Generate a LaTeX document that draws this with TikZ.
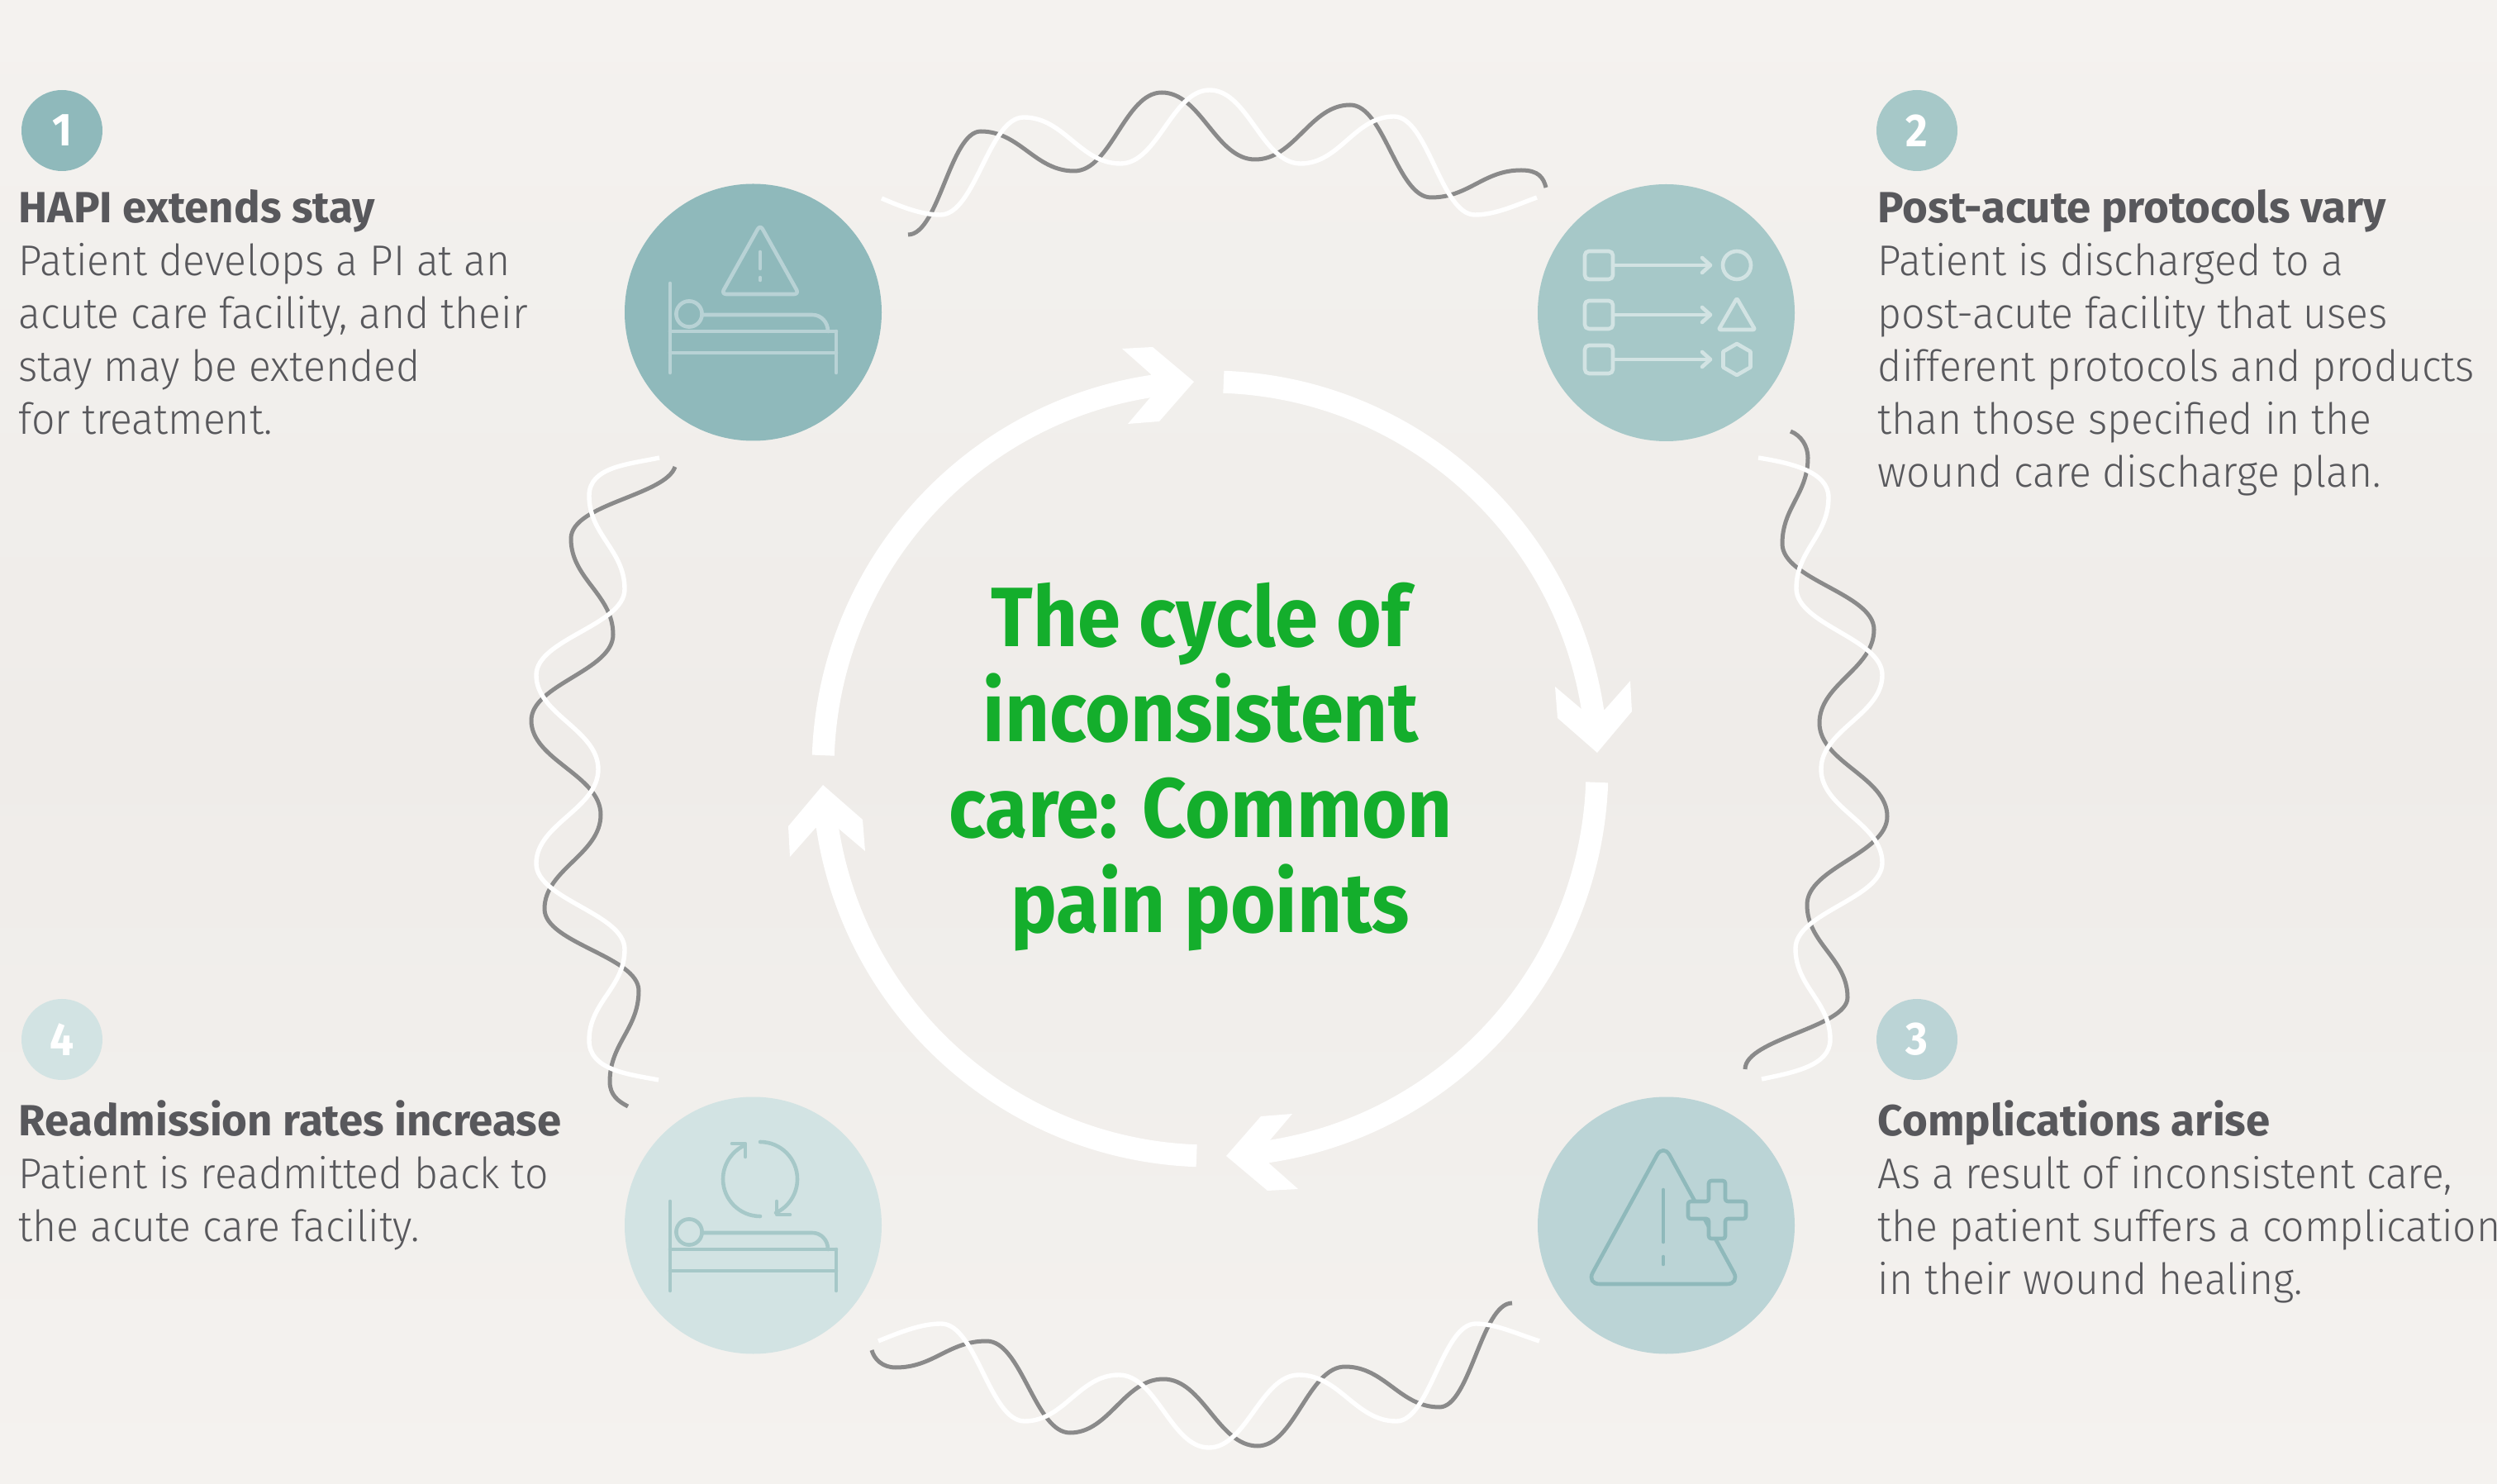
\documentclass[tikz,border=0pt]{standalone}
\usepackage{fontspec}
\usetikzlibrary{positioning}
\newfontfamily\dinlight{Fira Sans Light}[FakeStretch=0.96]
\newfontfamily\dinbold{Fira Sans Bold}[FakeStretch=0.92]
\newfontfamily\dinhead{Fira Sans Bold}
\newlength{\du}
\setlength{\du}{0.25pt}

\definecolor{tealA}{HTML}{8FB9BB}
\definecolor{tealB}{HTML}{A6C8C8}
\definecolor{tealC}{HTML}{BBD4D6}
\definecolor{tealD}{HTML}{D2E3E3}
\definecolor{iconA}{HTML}{B8D2D5}
\definecolor{titlegreen}{HTML}{14AE2C}
\definecolor{inkgrey}{HTML}{58585C}
\definecolor{wavegrey}{HTML}{8A8A8A}
\definecolor{bgedge}{HTML}{F4F2EF}
\definecolor{bgmid}{HTML}{EFECE9}

\tikzset{
  disc/.style={circle,inner sep=0pt,minimum size=311\du},
  badge/.style={circle,inner sep=0pt,minimum size=98\du,text=white,
    font=\dinbold\fontsize{14}{16}\selectfont},
  headline/.style={anchor=base west,inner sep=0pt,text=inkgrey,
    font=\dinhead\fontsize{13.2}{16}\selectfont},
  bodytext/.style={anchor=base west,inner sep=0pt,align=left,text=inkgrey,
    font=\dinlight\fontsize{13}{16}\selectfont},
  icon/.style={line width=4.6\du,line cap=round,line join=round},
  ring/.style={line width=27\du,white},
  wave/.style={line width=5\du,wavegrey},
  wavew/.style={line width=5.4\du,white},
}

% wave through its turning points: tangents level (wavex) or upright (wavey)
\newcommand{\wavex}[5]{
  \draw[#1] #2 \foreach \x/\y [remember=\x as \lastx (initially #3)] in {#4}{
    .. controls +({0.42*(\x-\lastx)*\du},0pt) and +({-0.42*(\x-\lastx)*\du},0pt) .. (\x\du,\y\du)
  } #5;
}
\newcommand{\wavey}[5]{
  \draw[#1] #2 \foreach \x/\y [remember=\y as \lasty (initially #3)] in {#4}{
    .. controls +(0pt,{0.42*(\y-\lasty)*\du}) and +(0pt,{-0.42*(\y-\lasty)*\du}) .. (\x\du,\y\du)
  } #5;
}

% bed with a patient, shifted down by #1, drawn in colour #2
\newcommand{\bedicon}[2]{
  \begin{scope}[yshift=#1\du,icon,#2]
    \draw (811\du,343\du)--(811\du,451\du);
    \draw (1012\du,401\du)--(1012\du,451\du);
    \draw (811\du,401\du)--(1012\du,401\du);
    \draw (811\du,427\du)--(1012\du,427\du);
    \draw (834\du,380\du) circle (15.6\du);
    \draw (850\du,381\du)--(983\du,381\du) .. controls (994\du,381\du) and (1002\du,390\du) .. (1002\du,401\du);
  \end{scope}
}

\begin{document}
\begin{tikzpicture}
  \pgftransformxscale{1.000000}
  \pgftransformyscale{-1.000000}
  \useasboundingbox (0\du,0\du) rectangle (3022\du,1796\du);
  \shade[top color=bgedge,bottom color=bgedge,middle color=bgmid] (0\du,0\du) rectangle (3022\du,1796\du);

  % waves between the discs
  \wavex{wave}{(1099\du,284\du)}{1099}{1187/159,1300/207,1406/112,1519/193,1634/127,1732/239,1841/206}{.. controls (1862\du,206\du) and (1868\du,215\du) .. (1871\du,227\du)}
  \wavey{wave}{(2167\du,522\du) .. controls (2180\du,527\du) and (2188\du,540\du) .. (2188\du,554\du)}{554}{2157/658,2268/762,2202/875,2284/988,2187/1095,2236/1207,2112/1294}{}
  \wavex{wave}{(1055\du,1634\du) .. controls (1058\du,1645\du) and (1068\du,1655\du) .. (1084\du,1655\du)}{1084}{1194/1623,1295/1734,1408/1669,1522/1750,1628/1654,1742/1703,1830/1577}{}
  \wavey{wave}{(817\du,565\du) .. controls (805\du,600\du) and (691\du,610\du) .. (691\du,652\du)}{652}{742/768,643/872,727/986,659/1100,773/1199,738/1309}{.. controls (738\du,1325\du) and (748\du,1333\du) .. (760\du,1339\du)}
  \wavex{wavew}{(1067\du,240\du) .. controls (1090\du,250\du) and (1115\du,260\du) .. (1138\du,260\du)}{1138}{1239/142,1356/198,1464/109,1574/198,1687/141,1785/260}{.. controls (1810\du,260\du) and (1835\du,248\du) .. (1860\du,239\du)}
  \wavey{wavew}{(2128\du,554\du) .. controls (2165\du,560\du) and (2213\du,570\du) .. (2213\du,602\du)}{602}{2174/712,2278/817,2204/931,2278/1044,2173/1148,2215/1258}{.. controls (2215\du,1290\du) and (2170\du,1298\du) .. (2132\du,1306\du)}
  \wavex{wavew}{(1063\du,1623\du) .. controls (1090\du,1612\du) and (1115\du,1602\du) .. (1139\du,1602\du)}{1139}{1240/1720,1354/1664,1463/1752,1572/1664,1690/1720,1786/1602}{.. controls (1810\du,1602\du) and (1835\du,1614\du) .. (1863\du,1623\du)}
  \wavey{wavew}{(798\du,554\du) .. controls (760\du,562\du) and (713\du,565\du) .. (713\du,600\du)}{600}{756/713,649/817,724/931,649/1045,756/1149,713/1259}{.. controls (713\du,1295\du) and (760\du,1300\du) .. (797\du,1307\du)}

  % ring of four arrows
  \foreach \turn in {0,90,180,270}{
    \begin{scope}[shift={(1464.5\du,930.5\du)},rotate=\turn]
      \draw[ring] (182:468.5\du) arc[start angle=182,end angle=264,radius=468.5\du];
      \fill[white] (-106.5\du,-508.5\du)--(-69.5\du,-510.5\du)--(-19.5\du,-468.5\du)--(-61.5\du,-420.5\du)--(-99.5\du,-417.5\du)--(-71.5\du,-450.5\du)--(-71.5\du,-477.5\du)--cycle;
    \end{scope}
  }

  % the four discs
  \node[disc,fill=tealA] (discA) at (911.5\du,378\du){};
  \node[disc,fill=tealB] (discB) at (2016.5\du,378.5\du){};
  \node[disc,fill=tealC] (discC) at (2016.5\du,1483\du){};
  \node[disc,fill=tealD] (discD) at (911.5\du,1483\du){};

  % disc 1
  \bedicon{0}{iconA}
  \draw[icon,iconA,rounded corners=6\du] (920\du,272\du)--(873\du,356\du)--(967\du,356\du)--cycle;
  \draw[icon,iconA] (920\du,305\du)--(920\du,325\du);
  \draw[icon,iconA] (920\du,336\du)--(920\du,339\du);

  % disc 2
  \foreach \rowy/\rowarrow in {304/321,364/381,418/435}{
    \draw[icon,tealD,rounded corners=5\du] (1918\du,\rowy\du) rectangle (1952\du,\rowy\du+34\du);
    \draw[icon,tealD] (1952\du,\rowarrow\du)--(2069\du,\rowarrow\du);
    \draw[icon,tealD] (2060\du,\rowarrow\du-9\du)--(2070\du,\rowarrow\du)--(2060\du,\rowarrow\du+9\du);
  }
  \draw[icon,tealD] (2102\du,321\du) circle (17\du);
  \draw[icon,tealD,rounded corners=2\du] (2102\du,361\du)--(2080\du,399\du)--(2124\du,399\du)--cycle;
  \draw[icon,tealD] (2102\du,416\du)--(2118.5\du,425.5\du)--(2118.5\du,444.5\du)--(2102\du,454\du)--(2085.5\du,444.5\du)--(2085.5\du,425.5\du)--cycle;

  % disc 3
  \draw[icon,tealA,rounded corners=16\du] (2013\du,1384\du)--(1920\du,1554\du)--(2106\du,1554\du)--cycle;
  \draw[icon,tealA] (2013\du,1440\du)--(2013\du,1503\du);
  \draw[icon,tealA] (2013\du,1521\du)--(2013\du,1530\du);
  \draw[icon,tealA,fill=tealC,rounded corners=3\du] (2068\du,1429\du)--(2088\du,1429\du)--(2088\du,1454\du)--(2113\du,1454\du)--(2113\du,1475\du)--(2088\du,1475\du)--(2088\du,1499\du)--(2068\du,1499\du)--(2068\du,1475\du)--(2043\du,1475\du)--(2043\du,1454\du)--(2068\du,1454\du)--cycle;

  % disc 4
  \bedicon{1111}{tealB}
  \draw[icon,tealB] (920\du,1382\du) arc[start angle=270,end angle=425,radius=45\du];
  \draw[icon,tealB] (920\du,1472\du) arc[start angle=90,end angle=245,radius=45\du];
  \draw[icon,tealB] (886\du,1384\du)--(902\du,1384\du)--(902\du,1400\du);
  \draw[icon,tealB] (940\du,1454\du)--(940\du,1470\du)--(956\du,1470\du);

  % title
  \node[inner sep=0pt,anchor=base,align=center,text=titlegreen,font=\dinbold\fontsize{25.5}{28.9}\selectfont] (title) at (1453\du,1129\du){The cycle of\\inconsistent\\care: Common\\\hspace*{24\du}pain points};

  % numbered texts
  \node[badge,fill=tealA] (numA) at (75\du,158\du){1};
  \node[headline] (headA) at (22\du,270\du){HAPI extends stay};
  \node[bodytext] (bodyA) at (22\du,526\du){Patient develops a PI at an\\acute care facility, and their\\stay may be extended\\for treatment.};

  \node[badge,fill=tealB] (numB) at (2320\du,158\du){2};
  \node[headline] (headB) at (2272\du,270\du){Post-acute protocols vary};
  \node[bodytext] (bodyB) at (2272\du,590\du){Patient is discharged to a\\post-acute facility that uses\\different protocols and products\\than those specified in the\\wound care discharge plan.};

  \node[badge,fill=tealC] (numC) at (2320\du,1258\du){3};
  \node[headline] (headC) at (2272\du,1374\du){Complications arise};
  \node[bodytext] (bodyC) at (2272\du,1566\du){As a result of inconsistent care,\\the patient suffers a complication\\in their wound healing.};

  \node[badge,fill=tealD] (numD) at (75\du,1258\du){4};
  \node[headline] (headD) at (22\du,1374\du){Readmission rates increase};
  \node[bodytext] (bodyD) at (22\du,1502\du){Patient is readmitted back to\\the acute care facility.};
\end{tikzpicture}
\end{document}
